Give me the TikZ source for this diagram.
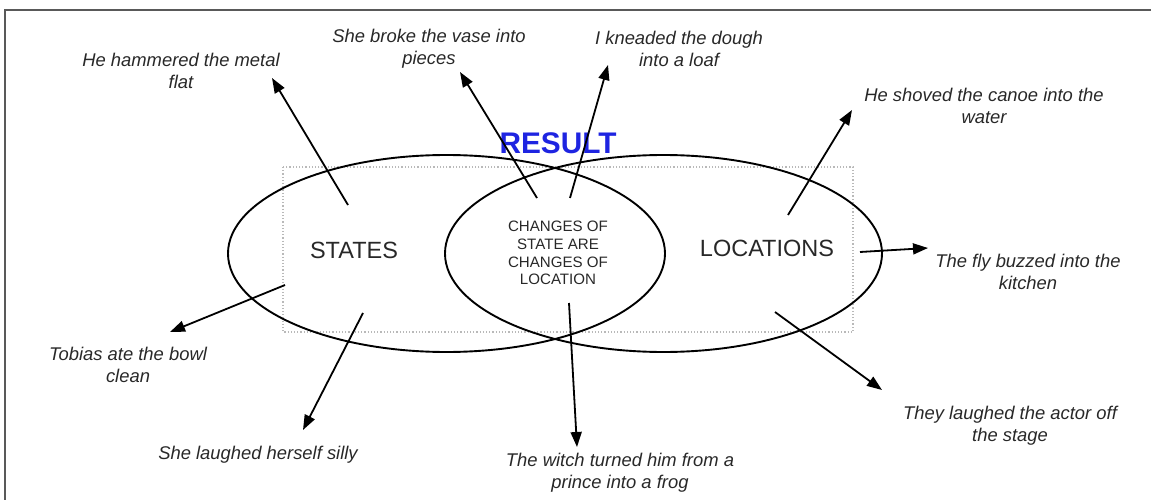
\documentclass[tikz,border=0pt]{standalone}
\usepackage{fontspec}
\setmainfont{Liberation Sans}
\usepackage{xcolor}
\usetikzlibrary{positioning,arrows.meta,shapes.geometric}

\definecolor{resultblue}{RGB}{30,36,225}
\definecolor{textgray}{RGB}{40,40,40}

\begin{document}
\begin{tikzpicture}[
  x=1pt, y=-1pt,
  venn/.style={draw, ellipse, line width=1.9pt, minimum width=437pt, minimum height=197pt, inner sep=0pt},
  setname/.style={font=\fontsize{23.5}{27}\selectfont, text=textgray},
  example/.style={font=\fontsize{18.4}{22}\selectfont\itshape, text=textgray, align=center, inner sep=1pt},
  arrow/.style={-{Triangle[length=15pt,width=11pt]}, line width=1.8pt}
]
\useasboundingbox (0,0) rectangle (1151,500);

% frame (only top and left edge visible)
\draw [line width=2pt, gray!70!black] (5,500) -- (5,10.5) -- (1151,10.5);

% dotted box behind the sets
\draw [dotted, line width=1.2pt, gray!55] (283,167) rectangle (853,332);

% the two sets
\node (states) [venn] at (446.5,253.5) {};
\node (locations) [venn] at (663.5,253.5) {};

\node (statesname) [setname] at (354,250) {STATES};
\node (locationsname) [setname] at (767,248) {LOCATIONS};
\node (overlap) [align=center, text=textgray, font=\fontsize{15.1}{17.8}\selectfont] at (558,253)
    {CHANGES OF\\ STATE ARE\\ CHANGES OF\\ LOCATION};
\node (result) [font=\fontsize{29.8}{32}\selectfont\bfseries, text=resultblue] at (558,143) {RESULT};

% example sentences
\node (hammer) [example] at (181,71) {He hammered the metal\\ flat};
\node (vase) [example] at (429,49) {She broke the vase into\\ pieces};
\node (dough) [example] at (679,49) {I kneaded the dough\\ into a loaf};
\node (canoe) [example] at (984,106) {He shoved the canoe into the\\ water};
\node (fly) [example] at (1028,272) {The fly buzzed into the\\ kitchen};
\node (actor) [example] at (1010,426) {They laughed the actor off\\ the stage};
\node (witch) [example] at (620,473) {The witch turned him from a\\ prince into a frog};
\node (silly) [example] at (258,455) {She laughed herself silly};
\node (bowl) [example] at (128,365) {Tobias ate the bowl\\ clean};

% arrow ends
\coordinate (hammerfrom) at (348,205);  \coordinate (hammerto) at (272,78);
\coordinate (vasefrom) at (537,198);    \coordinate (vaseto) at (460,72);
\coordinate (doughfrom) at (570,198);   \coordinate (doughto) at (608,65);
\coordinate (canoefrom) at (788,215);   \coordinate (canoeto) at (852,110);
\coordinate (flyfrom) at (860,252);     \coordinate (flyto) at (928,248);
\coordinate (actorfrom) at (775,312);   \coordinate (actorto) at (882,390);
\coordinate (witchfrom) at (569,303);   \coordinate (witchto) at (577,447);
\coordinate (sillyfrom) at (363,313);   \coordinate (sillyto) at (303,430);
\coordinate (bowlfrom) at (285,285);    \coordinate (bowlto) at (170,332);

\foreach \ex in {hammer,vase,dough,canoe,fly,actor,witch,silly,bowl}
  \draw [arrow] (\ex from) -- (\ex to);

\end{tikzpicture}
\end{document}
